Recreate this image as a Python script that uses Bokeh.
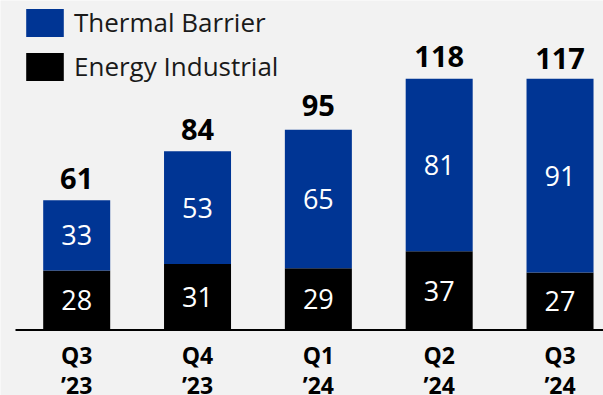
from bokeh.plotting import figure
from bokeh.models import ColumnDataSource, Range1d, Legend, LegendItem
from bokeh.core.properties import value
from bokeh.embed import file_html
from bokeh.resources import INLINE

quarters = ["Q3", "Q4", "Q1", "Q2", "Q3"]
years = ["\u201923", "\u201923", "\u201924", "\u201924", "\u201924"]
energy_industrial = [28, 31, 29, 37, 27]
thermal_barrier = [33, 53, 65, 81, 91]
totals = [61, 84, 95, 118, 117]

BLUE = "#003594"
BG = "#F2F2F2"
FONT = "Open Sans"

idx = list(range(len(quarters)))
src = ColumnDataSource(dict(
    x=idx,
    q=quarters,
    yr=years,
    ei=energy_industrial,
    tb=thermal_barrier,
    tb_top=[a + b for a, b in zip(energy_industrial, thermal_barrier)],
    ei_mid=[a / 2 for a in energy_industrial],
    tb_mid=[a + b / 2 for a, b in zip(energy_industrial, thermal_barrier)],
    tot=totals,
    ei_lab=[str(v) for v in energy_industrial],
    tb_lab=[str(v) for v in thermal_barrier],
    tot_lab=[str(v) for v in totals],
    zero=[0] * len(quarters),
))

p = figure(width=603, height=395, output_backend="svg", toolbar_location=None,
           x_range=Range1d(-0.6306, 4.3598), y_range=Range1d(-30.77, 154.77),
           min_border=0, min_border_left=0, min_border_right=0,
           min_border_top=0, min_border_bottom=0)
p.background_fill_color = BG
p.border_fill_color = BG
p.outline_line_color = None
p.xaxis.visible = False
p.yaxis.visible = False
p.xgrid.visible = False
p.ygrid.visible = False

bw = 0.5545
r_ei = p.vbar(x="x", bottom=0, top="ei", width=bw, source=src,
              fill_color="black", line_color=None)
r_tb = p.vbar(x="x", bottom="ei", top="tb_top", width=bw, source=src,
              fill_color=BLUE, line_color=None)

# baseline axis line
p.segment(x0=-0.5065, y0=0, x1=4.3598, y1=0, line_color="black", line_width=2)

p.text(x="x", y="ei_mid", text="ei_lab", source=src, text_color="white",
       text_font=value(FONT), text_font_size="27px",
       text_align="center", text_baseline="middle")
p.text(x="x", y="tb_mid", text="tb_lab", source=src, text_color="white",
       text_font=value(FONT), text_font_size="27px",
       text_align="center", text_baseline="middle")
p.text(x="x", y="tot", text="tot_lab", source=src, text_color="black",
       text_font=value(FONT), text_font_size="29px", text_font_style="bold",
       text_align="center", text_baseline="alphabetic", y_offset=-22)

p.text(x="x", y="zero", text="q", source=src, text_color="black",
       text_font=value(FONT), text_font_size="23px", text_font_style="bold",
       text_align="center", text_baseline="alphabetic", y_offset=25)
p.text(x="x", y="zero", text="yr", source=src, text_color="black",
       text_font=value(FONT), text_font_size="23px", text_font_style="bold",
       text_align="center", text_baseline="alphabetic", y_offset=55)

legend = Legend(items=[LegendItem(label="Thermal Barrier", renderers=[r_tb]),
                       LegendItem(label="Energy Industrial", renderers=[r_ei])],
                location=(21, 311), orientation="vertical",
                glyph_width=47, glyph_height=35, spacing=8, padding=0, margin=0,
                label_standoff=6, label_text_font=FONT, label_text_font_size="26px",
                label_text_color="#1a1a1a", background_fill_alpha=0,
                border_line_color=None)
p.add_layout(legend, "center")

open("out.html", "w").write(file_html(p, INLINE))
